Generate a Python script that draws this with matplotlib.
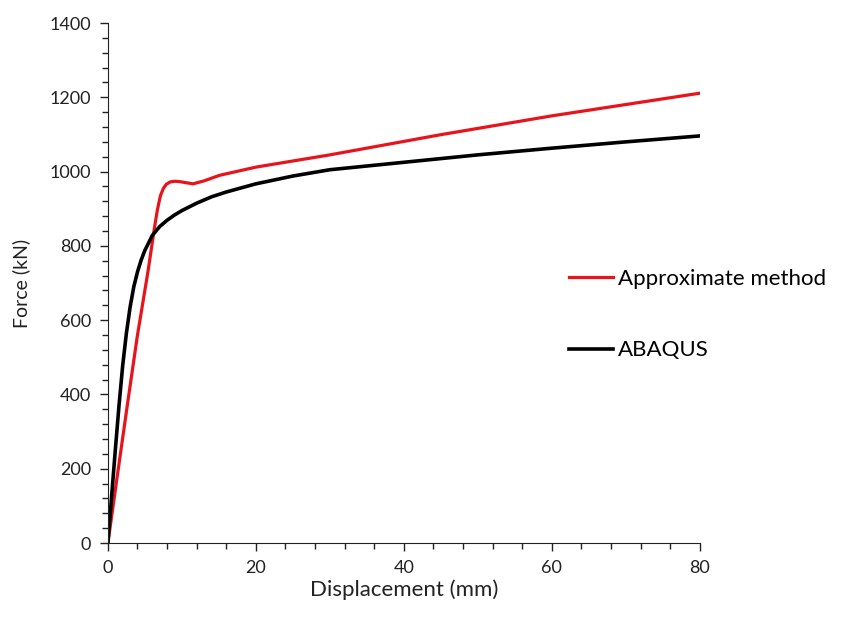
import matplotlib
matplotlib.use("Agg")
import matplotlib.pyplot as plt
from matplotlib.ticker import MultipleLocator

approx_x = [0, 1.3, 2.66, 3.96, 5.45, 6.3, 6.7, 7.1, 7.5, 7.9, 8.4, 9.0, 9.7, 10.6, 11.5, 13, 15.1, 20, 30, 44.9, 60, 80]
approx_y = [0, 185, 376, 555, 735, 850, 898, 935, 955, 966, 972, 974, 973, 970, 967, 975, 990, 1012, 1045, 1099, 1150, 1211]

abaqus_x = [0, 0.5, 1.0, 1.5, 2.0, 2.5, 3.0, 3.5, 4.0, 4.5, 5.0, 6.0, 7.0, 8.0, 9.0, 10, 12, 14, 16, 20, 25, 30, 40, 50, 60, 70, 80]
abaqus_y = [0, 125, 250, 370, 478, 565, 635, 690, 730, 762, 788, 828, 852, 869, 883, 895, 915, 932, 945, 967, 988, 1005, 1025, 1045, 1063, 1080, 1096]

plt.rcParams["font.family"] = ["Lato", "DejaVu Sans"]

fig = plt.figure(figsize=(8.43, 6.34), dpi=100)
ax = fig.add_axes([0.128, 0.1435, 0.702, 0.8202])

ax.plot(approx_x, approx_y, color="#e8141c", linewidth=2.3, label="Approximate method")
ax.plot(abaqus_x, abaqus_y, color="black", linewidth=2.6, label="ABAQUS")

ax.set_xlim(0, 80)
ax.set_ylim(0, 1400)
ax.xaxis.set_major_locator(MultipleLocator(20))
ax.xaxis.set_minor_locator(MultipleLocator(4))
ax.yaxis.set_major_locator(MultipleLocator(200))
ax.yaxis.set_minor_locator(MultipleLocator(40))
ax.tick_params(which="major", direction="out", length=6, width=1, labelsize=13, colors="#222222", pad=6)
ax.tick_params(which="minor", direction="out", length=4, width=1, colors="#222222")

ax.spines["top"].set_visible(False)
ax.spines["right"].set_visible(False)
ax.spines["left"].set_color("#222222")
ax.spines["bottom"].set_color("#222222")

ax.set_xlabel("Displacement (mm)", fontsize=16, color="#222222", labelpad=3)
ax.set_ylabel("Force (kN)", fontsize=14, color="#222222", labelpad=14)

ax.legend(loc="upper left", bbox_to_anchor=(0.745, 0.565), frameon=False, fontsize=16,
          handlelength=2.0, handletextpad=0.2, labelspacing=2.3)

plt.savefig("out.png", dpi=100)
